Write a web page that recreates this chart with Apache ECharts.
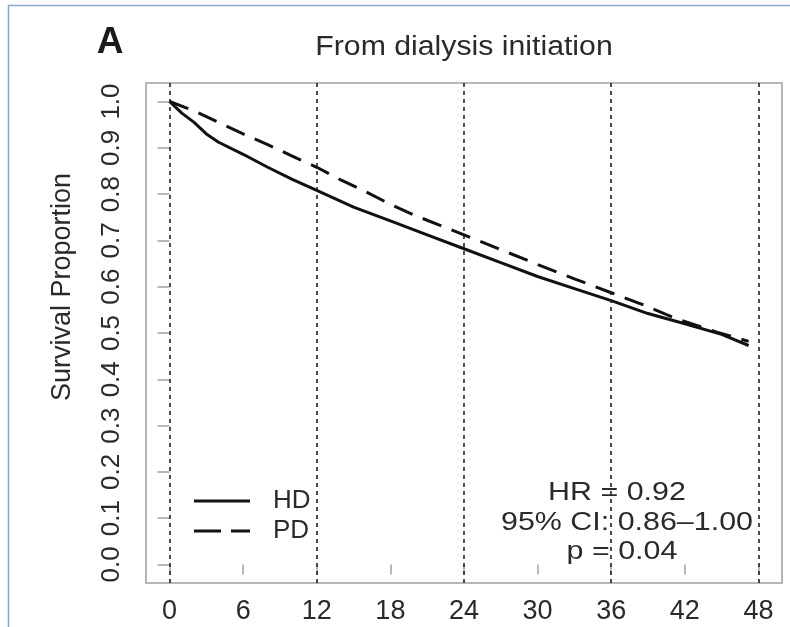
<!DOCTYPE html>
<html>
<head>
<meta charset="utf-8">
<script src="https://cdn.jsdelivr.net/npm/echarts@6/dist/echarts.min.js"></script>
<style>
html,body{margin:0;padding:0;background:#fff;}
#chart{width:790px;height:627px;}
</style>
</head>
<body>
<div id="chart"></div>
<script>
// ---- data ----
const xTicks = [0, 6, 12, 18, 24, 30, 36, 42, 48];
const yTicks = [0, 0.1, 0.2, 0.3, 0.4, 0.5, 0.6, 0.7, 0.8, 0.9, 1.0];
const refLines = [0, 12, 24, 36, 48];
const hdMonths = [0, 1, 2, 3, 4, 6, 8, 10, 12, 15, 18, 21, 24, 27, 30, 33, 36, 39, 42, 45, 47.2];
const hdSurv   = [1.0, 0.975, 0.955, 0.93, 0.912, 0.886, 0.858, 0.832, 0.808, 0.772, 0.742, 0.712, 0.682, 0.652, 0.622, 0.596, 0.57, 0.542, 0.52, 0.497, 0.473];
const pdMonths = [0, 2, 4, 6, 8, 10, 12, 14, 16, 18, 20, 22, 24, 27, 30, 33, 36, 38.4, 41.4, 44.6, 47.2];
const pdSurv   = [1.0, 0.98, 0.955, 0.93, 0.907, 0.882, 0.858, 0.83, 0.805, 0.778, 0.754, 0.733, 0.712, 0.68, 0.648, 0.617, 0.587, 0.563, 0.53, 0.502, 0.482];
const seriesNames = ['HD', 'PD'];
const panelLabel = 'A';
const titleText = 'From dialysis initiation';
const yTitle = 'Survival Proportion';
const statLines = ['HR = 0.92', '95% CI: 0.86\u20131.00', 'p = 0.04'];

const hdData = hdMonths.map((m, i) => [m, hdSurv[i]]);
const pdData = pdMonths.map((m, i) => [m, pdSurv[i]]);

const chart = echarts.init(document.getElementById('chart'), null, {renderer: 'canvas'});
const FONT = 'Liberation Sans, Arial, Helvetica, sans-serif';
const GRAY = '#a0a0a0';

const option = {
  animation: false,
  backgroundColor: '#ffffff',
  grid: {
    left: 146, top: 83, right: 8, bottom: 44,
    show: true, borderColor: GRAY, borderWidth: 1.5, backgroundColor: 'transparent'
  },
  xAxis: {
    type: 'value', min: -1.92, max: 49.92,
    axisLine: {show: false},
    splitLine: {show: false},
    axisTick: {show: true, customValues: xTicks, length: 10, lineStyle: {color: GRAY, width: 1.5}},
    axisLabel: {customValues: xTicks, fontSize: 27, color: '#2a2a2a', fontFamily: FONT, margin: 15}
  },
  yAxis: {
    type: 'value', min: -0.04, max: 1.04,
    axisLine: {show: false},
    splitLine: {show: false},
    axisTick: {show: true, customValues: yTicks, length: 12, lineStyle: {color: GRAY, width: 1.5}},
    axisLabel: {customValues: yTicks, rotate: 90, fontSize: 26, color: '#2a2a2a', fontFamily: FONT, margin: 21,
      formatter: v => v.toFixed(1)}
  },
  legend: {
    orient: 'vertical', left: 194, top: 488, padding: 0,
    itemWidth: 56, itemHeight: 3, itemGap: 4,
    textStyle: {fontSize: 26, color: '#2a2a2a', fontFamily: FONT, lineHeight: 25, padding: [0, 0, 0, 18]},
    data: [
      {name: seriesNames[0], icon: 'path://M0,0H56V3H0Z'},
      {name: seriesNames[1], icon: 'path://M0,0H27V3H0Z M37,0H56V3H37Z'}
    ]
  },
  series: [
    {
      name: seriesNames[0], type: 'line', data: hdData, symbol: 'none', smooth: false,
      lineStyle: {color: '#111', width: 3, type: 'solid'},
      itemStyle: {color: '#111'},
      markLine: {
        silent: true, symbol: ['none', 'none'], label: {show: false},
        lineStyle: {color: '#222', width: 1.6, type: [4, 4]},
        data: refLines.map(v => ({xAxis: v}))
      }
    },
    {
      name: seriesNames[1], type: 'line', data: pdData, symbol: 'none', smooth: false,
      lineStyle: {color: '#111', width: 3, type: [20, 11]},
      itemStyle: {color: '#111'}
    }
  ],
  graphic: [
    {type: 'line', shape: {x1: 8, y1: 5.5, x2: 790, y2: 5.5}, style: {stroke: '#8aa6c8', lineWidth: 1.5}, silent: true},
    {type: 'line', shape: {x1: 8.5, y1: 5, x2: 8.5, y2: 627}, style: {stroke: '#8aa6c8', lineWidth: 1.5}, silent: true},
    {type: 'text', x: 110, y: 43, style: {text: panelLabel, font: 'bold 37px ' + FONT, fill: '#1a1a1a', align: 'center', verticalAlign: 'middle'}},
    {type: 'text', x: 464, y: 48, scaleX: 1.12, style: {text: titleText, font: '27px ' + FONT, fill: '#2a2a2a', align: 'center', verticalAlign: 'middle'}},
    {type: 'text', x: 63, y: 287, rotation: Math.PI / 2, style: {text: yTitle, font: '27px ' + FONT, fill: '#2a2a2a', align: 'center', verticalAlign: 'middle'}},
    {type: 'text', x: 617, y: 493, scaleX: 1.17, style: {text: statLines[0], font: '26px ' + FONT, fill: '#2a2a2a', align: 'center', verticalAlign: 'middle'}},
    {type: 'text', x: 627, y: 523, scaleX: 1.17, style: {text: statLines[1], font: '26px ' + FONT, fill: '#2a2a2a', align: 'center', verticalAlign: 'middle'}},
    {type: 'text', x: 622, y: 552, scaleX: 1.17, style: {text: statLines[2], font: '26px ' + FONT, fill: '#2a2a2a', align: 'center', verticalAlign: 'middle'}}
  ]
};
chart.setOption(option);
</script>
</body>
</html>
